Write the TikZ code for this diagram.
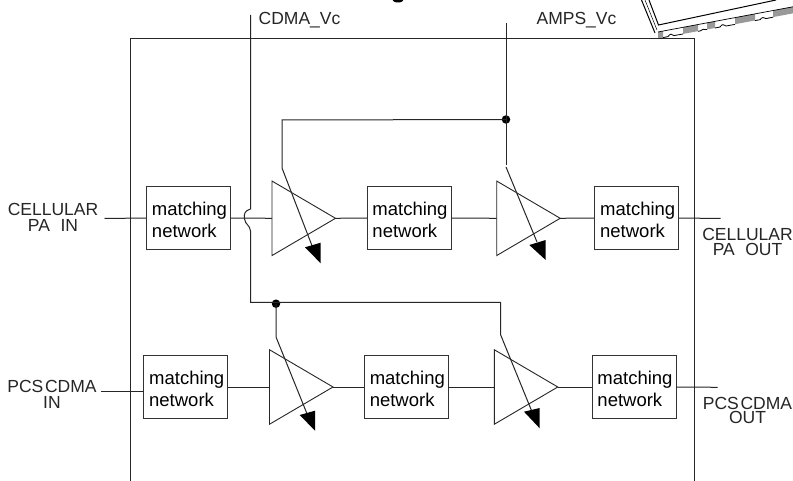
\documentclass[tikz,border=0pt]{standalone}
\usepackage{fontspec}
\setmainfont{Liberation Sans}
\usetikzlibrary{shapes.geometric}
\newcommand{\lblfont}{\fontsize{17.5}{16}\selectfont}
\newcommand{\boxfont}{\fontsize{18.5}{21.5}\selectfont}
\newcommand{\mnet}{\rule{0pt}{17pt}\hspace*{2pt}matching\\\hspace*{2pt}network}
\tikzset{
  wire/.style={line width=1pt,draw=black!85},
  matchbox/.style={draw=black!80,line width=1pt,minimum width=84pt,minimum height=63pt,inner sep=0pt,outer sep=0pt,align=left,font=\boxfont},
  amp/.style={draw=black!85,line width=0.9pt,shape=isosceles triangle,isosceles triangle stretches,minimum width=74.5pt,minimum height=63.5pt,inner sep=0pt,outer sep=0pt,anchor=lower side},
  junction/.style={circle,fill=black,minimum size=8.5pt,inner sep=0pt,outer sep=0pt},
  lbl/.style={font=\lblfont,align=center,inner sep=0pt,text=black!85},
  head/.style={fill=black},
  pad/.style={fill=black!40,draw=none}
}
\begin{document}
\begin{tikzpicture}[x=1pt,y=-1pt]
\useasboundingbox (0,0) rectangle (793,481);
\fill[white] (0,0) rectangle (793,481);
% cut-off title descender
\begin{scope}
\clip (380,0) rectangle (420,5);
\fill (398,-1) ellipse (6 and 3.5);
\end{scope}
% package outline
\draw[line width=1pt] (641.5,0) -- (655,33);
\draw[line width=1pt] (649,0) -- (658.5,25) -- (776,0);
\draw[line width=0.5pt] (645,0) -- (657,30);
\foreach \a/\b in {658/663,683/698,707/715,735/755,773/793}{
  \fill[pad] (\a,{32-0.187*(\a-658)}) -- (\b,{32-0.187*(\b-658)}) -- (\b,{38.6-0.187*(\b-658)}) -- (\a,{38.6-0.187*(\a-658)}) -- cycle;
}
\draw[line width=0.7pt] (658,32) -- (793,6.8);
\draw[line width=0.8pt] (663,37.6) -- (668,36.6) .. controls (670,33.5) and (672,33.5) .. (674,35.6) -- (683,34);
\draw[line width=0.8pt] (698,31.3) -- (700,31) .. controls (702,29) and (704,29) .. (707,29.6);
\draw[line width=0.8pt] (715,28) -- (720,27) .. controls (722,24) and (724,24) .. (726,26) -- (735,24.4);
\draw[line width=0.8pt] (755,20.6) -- (760,19.7) .. controls (762,17) and (764,17) .. (766,18.6) -- (773,17.2);
% outer frame
\coordinate (fbl) at (130,481);
\coordinate (ftl) at (130,39);
\coordinate (ftr) at (694.5,39);
\coordinate (fbr) at (694.5,481);
\draw[wire] (fbl) -- (ftl) -- (ftr) -- (fbr);
% boxes
\node[matchbox] (b1) at (188.5,218) {\mnet};
\node[matchbox] (b2) at (409,218) {\mnet};
\node[matchbox] (b3) at (636.7,218) {\mnet};
\node[matchbox] (b4) at (185.7,387) {\mnet};
\node[matchbox] (b5) at (406.3,387) {\mnet};
\node[matchbox] (b6) at (634,387) {\mnet};
% amplifiers
\node[amp] (a1) at (272,218.3) {};
\node[amp] (a2) at (496.7,218.3) {};
\node[amp] (a3) at (269.5,387) {};
\node[amp] (a4) at (494.3,387) {};
% signal wires, top
\coordinate (tin) at (104.5,218.5);
\coordinate (tout) at (720.7,218.5);
\draw[wire] (tin) -- (b1.west);
\draw[wire] (b1.east) -- (a1.lower side);
\draw[wire] (a1.apex) -- (b2.west);
\draw[wire] (b2.east) -- (a2.lower side);
\draw[wire] (a2.apex) -- (b3.west);
\draw[wire] (b3.east) -- (tout);
% signal wires, bottom
\coordinate (bin) at (101,391.7);
\coordinate (bout) at (717.7,387.3);
\draw[wire] (bin) -- (bin -| b4.west);
\draw[wire] (b4.east) -- (a3.lower side);
\draw[wire] (a3.apex) -- (b5.west);
\draw[wire] (b5.east) -- (a4.lower side);
\draw[wire] (a4.apex) -- (b6.west);
\draw[wire] (b6.east) -- (bout);
% AMPS control
\node[junction] (j1) at (506,119.5) {};
\coordinate (ampsv) at (506,23);
\coordinate (ampsend) at (506,165);
\coordinate (c1a) at (282,120);
\coordinate (c1b) at (282,168);
\coordinate (d1) at (312.5,247);
\coordinate (d2a) at (506,167);
\coordinate (d2) at (537,242);
\draw[wire] (ampsv) -- (ampsend);
\draw[wire] (j1.center) -- (c1a) -- (c1b) -- (d1);
\draw[wire] (d2a) -- (d2);
\fill[head] (305,247.3) -- (320.7,242.7) -- (320.7,263.3) -- cycle;
\fill[head] (529.3,245) -- (545.7,240) -- (545.7,260) -- cycle;
% CDMA control
\node[junction] (j2) at (276,303.7) {};
\coordinate (cdmav) at (250.5,15);
\coordinate (c2a) at (250.5,302.5);
\coordinate (c2b) at (500.7,302.5);
\coordinate (c2c) at (500.7,335);
\coordinate (c3) at (276,337);
\coordinate (d3) at (306.7,413);
\coordinate (d4) at (531.7,411);
\draw[wire] (cdmav) -- (250.5,209) .. controls (245,210.5) and (243.5,214) .. (244.5,219) .. controls (245.5,225) and (250,225) .. (250.5,231) -- (c2a) -- (c2b) -- (c2c) -- (d4);
\draw[wire] (j2.center) -- (c3) -- (d3);
\fill[head] (299.7,415) -- (315,410.7) -- (315,430.7) -- cycle;
\fill[head] (524,411.7) -- (539.7,408) -- (539.7,428.3) -- cycle;
% labels
\node[lbl] (lcv) at (299.5,20.5) {CDMA\_Vc};
\node[lbl] (lav) at (576.5,20.5) {AMPS\_Vc};
\node[lbl] (lti) at (53,217) {CELLULAR\\PA\hspace{0.6em}IN};
\node[lbl] (lto) at (747.5,242) {CELLULAR\\[-1.7pt]PA\hspace{0.6em}OUT};
\node[lbl] (lbi) at (52,394.5) {{\spaceskip=0.1em PCS CDMA}\\IN};
\node[lbl] (lbo) at (747.5,410.5) {{\spaceskip=0.1em PCS CDMA}\\[-2pt]OUT};
\end{tikzpicture}
\end{document}
